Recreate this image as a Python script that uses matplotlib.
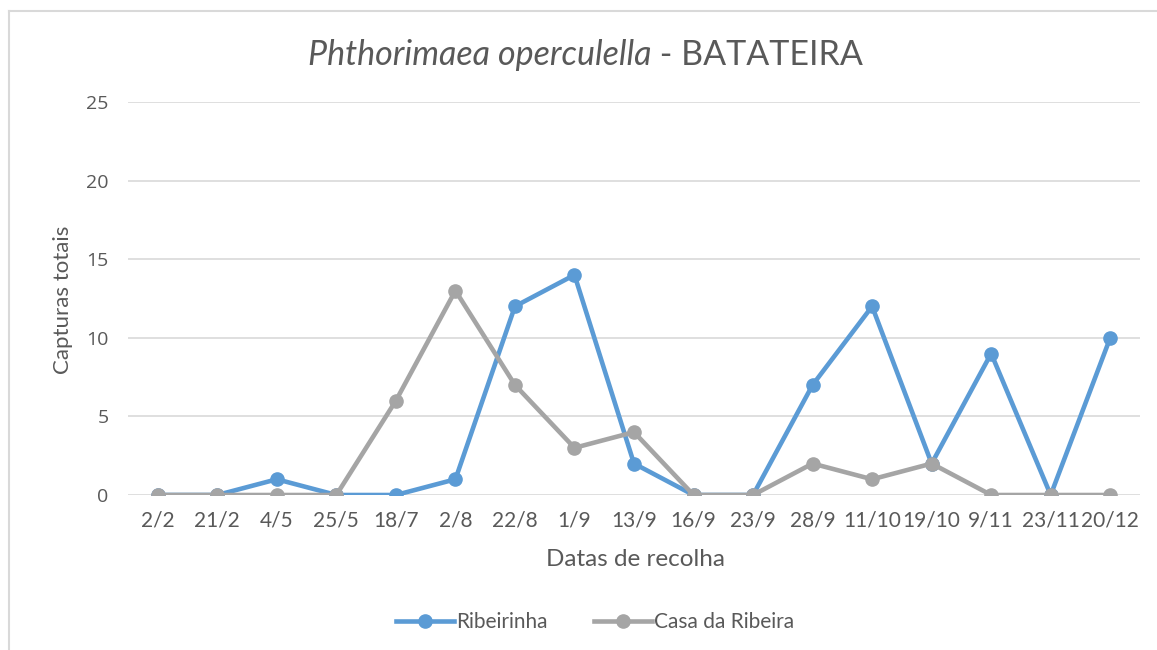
import matplotlib
matplotlib.use("Agg")
from matplotlib import pyplot as plt
from matplotlib.lines import Line2D
import numpy as np

plt.rcParams['font.family'] = ['Lato', 'DejaVu Sans']

# data
datas = ['2/2', '21/2', '4/5', '25/5', '18/7', '2/8', '22/8', '1/9', '13/9',
         '16/9', '23/9', '28/9', '11/10', '19/10', '9/11', '23/11', '20/12']
ribeirinha = [0, 0, 1, 0, 0, 1, 12, 14, 2, 0, 0, 7, 12, 2, 9, 0, 10]
casa_ribeira = [0, 0, 0, 0, 6, 13, 7, 3, 4, 0, 0, 2, 1, 2, 0, 0, 0]

blue = '#5B9BD5'
grey = '#A5A5A5'
txt = '#595959'

fig = plt.figure(figsize=(11.57, 6.5), dpi=100)
ax = fig.add_axes([128/1157, 1-495/650, (1140-128)/1157, (495-102)/650])

x = np.arange(len(datas))
ax.plot(x, ribeirinha, color=blue, lw=3.3, marker='o', ms=9.5, label='Ribeirinha',
        solid_capstyle='round', zorder=3)
ax.plot(x, casa_ribeira, color=grey, lw=3.3, marker='o', ms=9.5, label='Casa da Ribeira',
        solid_capstyle='round', zorder=4)

ax.set_xlim(-0.5, len(datas)-0.5)
ax.set_ylim(0, 25)
ax.set_yticks(range(0, 26, 5))
ax.set_xticks(x)
ax.set_xticklabels(datas)
ax.grid(axis='y', color='#D9D9D9', lw=1.2)
ax.set_axisbelow(True)
for s in ax.spines.values():
    s.set_visible(False)
ax.tick_params(length=0, colors=txt, labelsize=15)
ax.tick_params(axis='y', pad=14)
ax.tick_params(axis='x', pad=11)
for lab in ax.get_yticklabels():
    lab.set_family(['Open Sans', 'DejaVu Sans'])
    lab.set_fontsize(14)

ax.set_xlabel('Datas de recolha', color=txt, fontsize=17.5)
ax.set_ylabel('Capturas totais', color=txt, fontsize=16)
ax.xaxis.set_label_coords((635-128)/1012, (495-549)/393)
ax.yaxis.set_label_coords((73-128)/1012, (495-300)/393)

# title: italic species name + plain host plant
fig.text(651/1157, 1-55/650, 'Phthorimaea operculella', ha='right', va='center',
         color=txt, fontsize=24.5, fontstyle='italic')
fig.text(651/1157, 1-55/650, ' - BATATEIRA', ha='left', va='center',
         color=txt, fontsize=24.5)

handles = [Line2D([], [], color=blue, lw=3.3, marker='o', ms=9.5),
           Line2D([], [], color=grey, lw=3.3, marker='o', ms=9.5)]
fig.legend(handles, ['Ribeirinha', 'Casa da Ribeira'], loc='center',
           bbox_to_anchor=(595/1157, 1-622/650), ncol=2, frameon=False,
           fontsize=15, labelcolor=txt, handlelength=2.8, handletextpad=0.1,
           columnspacing=2.2)

# chart border (top and left edges)
fig.add_artist(Line2D([9/1157, 1], [1-11/650, 1-11/650], color='#D9D9D9', lw=1.5))
fig.add_artist(Line2D([9/1157, 9/1157], [0, 1-11/650], color='#D9D9D9', lw=1.5))

fig.savefig('out.png', dpi=100)
